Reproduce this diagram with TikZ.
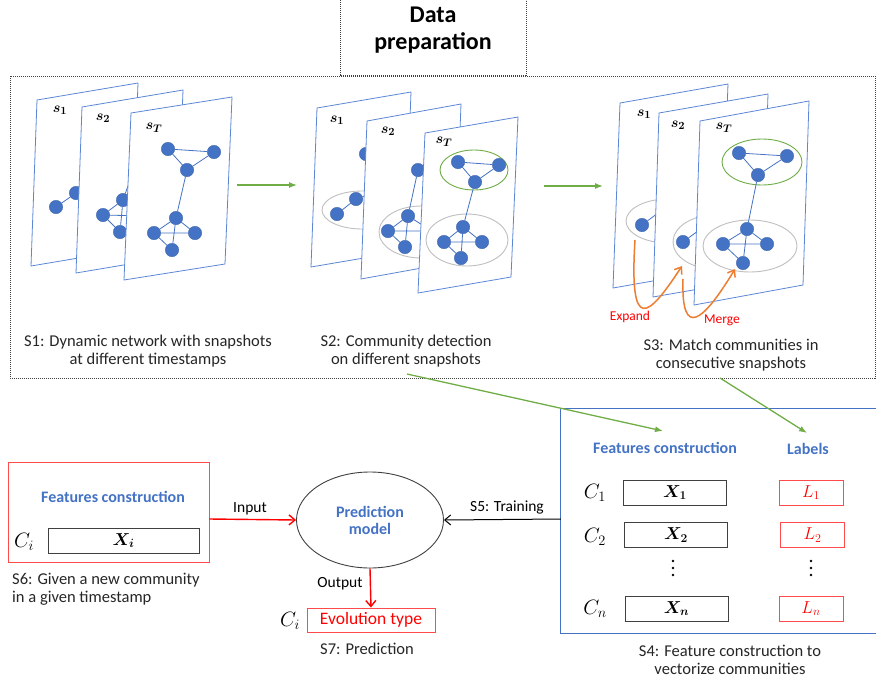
\documentclass[tikz,border=0pt]{standalone}
\usepackage{fontspec}
\setmainfont{Carlito}
\usepackage{bm}
\usetikzlibrary{arrows.meta,shapes.geometric}
\definecolor{nblue}{HTML}{4472C4}
\definecolor{pblue}{HTML}{5B87D6}
\definecolor{tblue}{HTML}{4472C4}
\definecolor{ggreen}{HTML}{70AD47}
\definecolor{orng}{HTML}{ED7D31}
\definecolor{rred}{HTML}{FF0000}
\definecolor{bred}{HTML}{FF4B4B}
\definecolor{lgray}{HTML}{BFBFBF}
\definecolor{dgray}{HTML}{404040}
\newcommand\snapplane[6]{\filldraw[plane] (#1,#2) -- ++(#3,-#4) -- ++(#6,#5) -- ++(-#3,#4) -- cycle;}
\begin{document}
\begin{tikzpicture}[x=1pt,y=-1pt,
  plane/.style={draw=pblue,fill=white,line width=0.8pt},
  nd/.style={circle,fill=nblue,draw=nblue!85!black,line width=0.3pt,inner sep=0pt,minimum size=13.5pt},
  ed/.style={draw=nblue,line width=0.8pt},
  gcomm/.style={draw=ggreen,line width=0.9pt},
  ocomm/.style={draw=lgray,line width=0.9pt},
  slab/.style={font=\fontsize{15}{15}\selectfont,inner sep=0pt},
  captxt/.style={font=\fontsize{16.5}{18}\selectfont,align=center,inner sep=0pt,text=black!85},
  btitle/.style={font=\bfseries\fontsize{16}{17}\selectfont,text=tblue,inner sep=0pt,align=center},
  garrow/.style={draw=ggreen,line width=1.3pt,-{Latex[length=8pt,width=6pt]}},
  oarrow/.style={draw=orng,line width=1.5pt,-{Straight Barb[length=6pt,width=9pt]}},
  rarrow/.style={draw=rred,line width=1.4pt,-{Straight Barb[length=6pt,width=10pt]}},
  karrow/.style={draw=black,line width=1pt,-{Straight Barb[length=6pt,width=10pt]}},
  vbox/.style={draw=dgray,line width=0.9pt,inner sep=0pt,minimum width=103pt,minimum height=25pt,font=\fontsize{18}{18}\selectfont},
  lbox/.style={draw=bred,line width=0.9pt,inner sep=0pt,minimum width=64pt,minimum height=25pt,text=rred,font=\fontsize{18}{18}\selectfont},
  clab/.style={font=\fontsize{20}{20}\selectfont,inner sep=0pt},
  dotc/.style={circle,fill=black,inner sep=0pt,minimum size=2.8pt},
  dashbox/.style={draw=black!75,line width=0.6pt,dash pattern=on 1.2pt off 0.8pt}
]
\useasboundingbox (0,0) rectangle (876,683);

% ---------- frames ----------
\draw[dashbox] (10,76) rectangle (875,378);
\draw[dashbox] (340,0) -- (340,75) -- (526,75) -- (526,0);
\node[font=\bfseries\fontsize{24}{27}\selectfont,align=center,inner sep=0pt] (title) at (433,30) {Data\\preparation};

% ---------- S1 ----------
\snapplane{37}{100}{101}{17}{166}{-6}
\node[slab] (s11) at (60,110) {$\bm{s_1}$};
\node[nd] (e11) at (56,207) {};
\node[nd] (d11) at (76,193) {};
\coordinate (h11) at (95,175);
\draw[ed] (e11) -- (d11) (d11) -- (h11);

\snapplane{82}{107}{101}{17}{166}{-6}
\node[slab] (s12) at (103,118) {$\bm{s_2}$};
\node[nd] (c12) at (140,152) {};
\node[nd] (d12) at (123,200) {};
\node[nd] (e12) at (103,215) {};
\node[nd] (f12) at (145,216) {};
\node[nd] (g12) at (120,232) {};
\draw[ed] (c12) -- (d12) (d12) -- (e12) (d12) -- (g12) (e12) -- (g12) (e12) -- (f12) (d12) -- (f12);

\snapplane{131}{113}{101}{16}{167}{-7}
\node[slab] (s13) at (154,128) {$\bm{s_T}$};
\node[nd] (a13) at (168,149) {};
\node[nd] (b13) at (214,152) {};
\node[nd] (c13) at (187,170) {};
\node[nd] (d13) at (176,218) {};
\node[nd] (e13) at (154,233) {};
\node[nd] (f13) at (195,233) {};
\node[nd] (g13) at (172,250) {};
\draw[ed] (a13) -- (b13) (a13) -- (c13) (b13) -- (c13) (c13) -- (d13) (d13) -- (e13) (d13) -- (f13) (d13) -- (g13) (e13) -- (f13) (e13) -- (g13);

\node[captxt] (cap1) at (148,351) {S1: Dynamic network with snapshots\\at different timestamps};

% ---------- S2 ----------
\snapplane{317}{108}{94}{16}{159}{-6}
\node[slab] (s21) at (337,120) {$\bm{s_1}$};
\draw[ocomm] (362,210) ellipse [x radius=40pt, y radius=19pt];
\node[nd] (a21) at (366,154) {};
\node[nd] (e21) at (337,214) {};
\node[nd] (d21) at (356,199) {};
\coordinate (h21) at (380,190);
\draw[ed] (e21) -- (d21) (d21) -- (h21);

\snapplane{367}{121}{94}{17}{158}{-6}
\node[slab] (s22) at (388,131) {$\bm{s_2}$};
\draw[ocomm] (421,232) ellipse [x radius=42pt, y radius=26pt];
\node[nd] (c22) at (418,170) {};
\node[nd] (d22) at (408,216) {};
\node[nd] (e22) at (388,231) {};
\node[nd] (f22) at (432,231) {};
\node[nd] (g22) at (405,247) {};
\draw[ed] (c22) -- (d22) (d22) -- (e22) (d22) -- (g22) (e22) -- (g22) (e22) -- (f22) (d22) -- (f22);

\snapplane{425}{133}{93}{16}{160}{-7}
\node[slab] (s23) at (444,142) {$\bm{s_T}$};
\draw[gcomm] (474,170) ellipse [x radius=34pt, y radius=20pt];
\draw[ocomm] (467,240) ellipse [x radius=41pt, y radius=26pt];
\node[nd] (a23) at (458,162) {};
\node[nd] (b23) at (499,165) {};
\node[nd] (c23) at (475,182) {};
\node[nd] (d23) at (463,227) {};
\node[nd] (e23) at (444,242) {};
\node[nd] (f23) at (482,242) {};
\node[nd] (g23) at (461,258) {};
\draw[ed] (a23) -- (b23) (a23) -- (c23) (b23) -- (c23) (c23) -- (d23) (d23) -- (e23) (d23) -- (f23) (d23) -- (g23) (e23) -- (f23) (e23) -- (g23);

\node[captxt] (cap2) at (406,351) {S2: Community detection\\on different snapshots};

% ---------- S3 ----------
\snapplane{620}{103}{108}{19}{185}{-7}
\node[slab] (s31) at (644,114) {$\bm{s_1}$};
\draw[ocomm] (668,221) ellipse [x radius=42pt, y radius=22pt];
\node[nd] (e31) at (642,225) {};
\coordinate (h31) at (662,210);
\draw[ed] (e31) -- (h31);

\snapplane{659}{113}{109}{19}{184}{-6}
\node[slab] (s32) at (678,125) {$\bm{s_2}$};
\draw[ocomm] (715,242) ellipse [x radius=42pt, y radius=27pt];
\node[nd] (e32) at (683,242) {};
\coordinate (h32) at (702,228);
\draw[ed] (e32) -- (h32);

\snapplane{700}{121}{109}{20}{184}{-6}
\node[slab] (s33) at (724,128) {$\bm{s_T}$};
\draw[gcomm] (762,162) ellipse [x radius=40pt, y radius=23pt];
\draw[ocomm] (750,246) ellipse [x radius=47pt, y radius=26pt];
\node[nd] (a33) at (739,153) {};
\node[nd] (b33) at (787,156) {};
\node[nd] (c33) at (758,175) {};
\node[nd] (d33) at (747,229) {};
\node[nd] (e33) at (723,244) {};
\node[nd] (f33) at (767,244) {};
\node[nd] (g33) at (743,263) {};
\draw[ed] (a33) -- (b33) (a33) -- (c33) (b33) -- (c33) (c33) -- (d33) (d33) -- (e33) (d33) -- (f33) (d33) -- (g33) (e33) -- (f33) (e33) -- (g33);

% orange arrows
\coordinate (ex0) at (635,240);
\coordinate (ex1) at (682,266);
\coordinate (mg0) at (683,279);
\coordinate (mg1) at (735,269);
\draw[oarrow] (ex0) .. controls (629,335) and (648,318) .. (ex1);
\draw[oarrow] (mg0) .. controls (681,340) and (703,322) .. (mg1);
\node[font=\fontsize{13.5}{13.5}\selectfont,text=rred,inner sep=0pt] (expand) at (630,317) {Expand};
\node[font=\fontsize{13.5}{13.5}\selectfont,text=rred,inner sep=0pt] (merge) at (722,320) {Merge};

\node[captxt] (cap3) at (731,355) {S3: Match communities in\\consecutive snapshots};

% green arrows
\coordinate (ga0) at (237,185);
\coordinate (ga1) at (297,185);
\coordinate (gb0) at (544,186);
\coordinate (gb1) at (603,186);
\draw[garrow] (ga0) -- (ga1);
\draw[garrow] (gb0) -- (gb1);

% ---------- S4 ----------
\node[minimum width=315pt,minimum height=224pt,inner sep=0pt] (s4box) at (718.5,521) {};
\draw[draw=nblue,line width=0.9pt] (s4box.north east) -- (s4box.north west) -- (s4box.south west) -- (s4box.south east);
\node[btitle] (fc4) at (665,448) {Features construction};
\node[btitle] (lab4) at (808,449) {Labels};
\coordinate (gc0) at (407,374);
\coordinate (gc1) at (663,431);
\coordinate (gd0) at (720,378);
\coordinate (gd1) at (807,433);
\draw[garrow] (gc0) -- (gc1);
\draw[garrow] (gd0) -- (gd1);

\node[clab] (c1) at (595,493) {$C_1$};
\node[vbox] (x1) at (675,492.5) {$\bm{X_1}$};
\node[lbox] (l1) at (811,492.5) {$L_1$};
\node[clab] (c2) at (595,537) {$C_2$};
\node[vbox] (x2) at (676,535) {$\bm{X_2}$};
\node[lbox] (l2) at (812.5,535) {$L_2$};
\foreach \yy [count=\k] in {561,568,575}{
  \node[dotc] (va\k) at (673,\yy) {};
  \node[dotc] (vb\k) at (811,\yy) {};
}
\node[clab] (cn) at (595,609) {$C_n$};
\node[vbox] (xn) at (676.5,608.5) {$\bm{X_n}$};
\node[lbox] (ln) at (811,608.5) {$L_n$};
\node[captxt] (cap4) at (730,660) {S4: Feature construction to\\vectorize communities};

% ---------- S6 ----------
\node[draw=bred,line width=0.9pt,minimum width=201pt,minimum height=100pt,inner sep=0pt] (s6box) at (108.5,512) {};
\node[btitle] (fc6) at (113,497) {Features construction};
\node[clab] (ci) at (24,542) {$C_i$};
\node[draw=dgray,line width=0.9pt,minimum width=151pt,minimum height=25pt,inner sep=0pt,font=\fontsize{18}{18}\selectfont] (xi) at (123.5,540.5) {$\bm{X_i}$};
\node[captxt,align=left,anchor=west] (cap6) at (12,589) {S6: Given a new community\\in a given timestamp};

% ---------- prediction ----------
\node[draw=dgray,line width=0.9pt,ellipse,minimum width=147pt,minimum height=96pt,inner sep=0pt] (pm) at (370,520) {};
\node[btitle] (pmt) at (370,520) {Prediction\\model};
\draw[rarrow] (s6box.east |- 0,519) -- (pm.west);
\node[font=\fontsize{15.5}{15.5}\selectfont,inner sep=0pt] (inp) at (250,509) {Input};
\draw[karrow] (s4box.west |- 0,519) -- (pm.east);
\node[font=\fontsize{15.5}{15.5}\selectfont,inner sep=0pt] (trn) at (507,507) {S5: Training};
\node[draw=bred,line width=0.9pt,minimum width=128pt,minimum height=24pt,inner sep=0pt,text=rred,font=\fontsize{17.5}{17.5}\selectfont] (evo) at (371,620) {Evolution type};
\draw[rarrow] (pm.south) -- (evo.north);
\node[font=\fontsize{15.5}{15.5}\selectfont,inner sep=0pt] (outp) at (340,584) {Output};
\node[clab] (ci2) at (290,621) {$C_i$};
\node[captxt] (cap7) at (367,649) {S7: Prediction};
\end{tikzpicture}
\end{document}
